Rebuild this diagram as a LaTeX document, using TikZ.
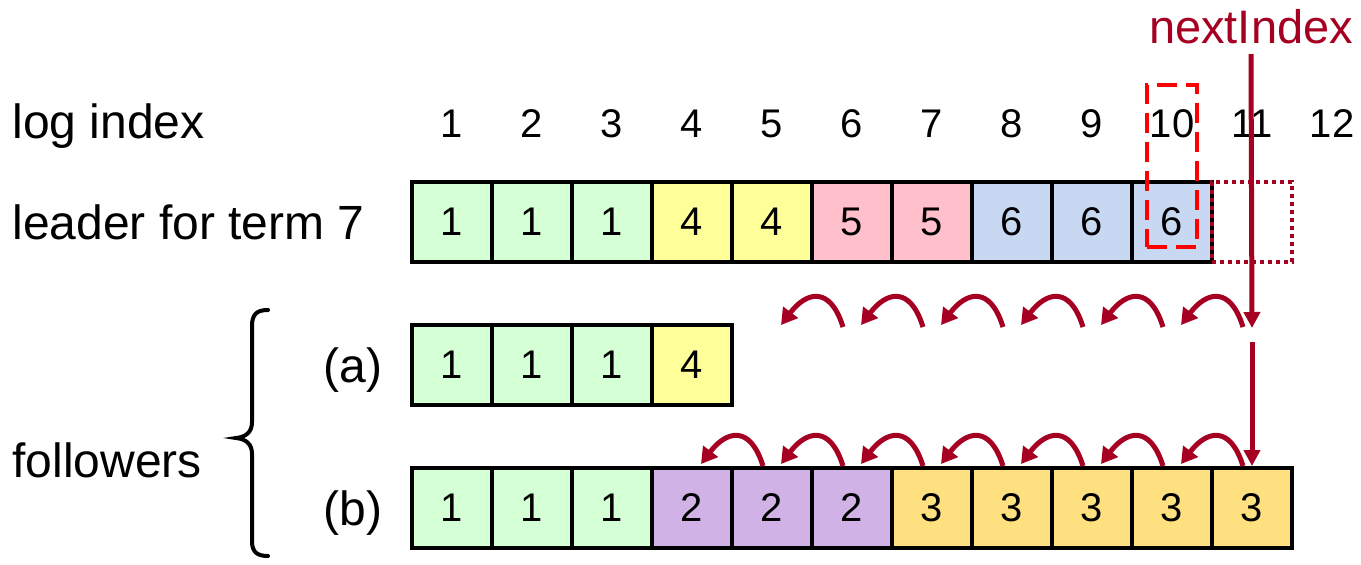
\documentclass[tikz,border=0pt]{standalone}
\usepackage{fontspec}
\setmainfont{Liberation Sans}
\usetikzlibrary{arrows.meta}
\definecolor{dred}{RGB}{165,0,33}
\definecolor{cgreen}{RGB}{213,255,213}
\definecolor{cyellow}{RGB}{255,255,153}
\definecolor{cpink}{RGB}{255,192,203}
\definecolor{cblue}{RGB}{201,216,242}
\definecolor{cpurple}{RGB}{209,178,230}
\definecolor{corange}{RGB}{255,224,128}
\begin{document}
\begin{tikzpicture}[x=0.5pt,y=-0.5pt,
 cell/.style={draw=black, line width=2pt, minimum width=40pt, minimum height=40pt, inner sep=0pt, font=\fontsize{20}{24}\selectfont},
 idx/.style={anchor=base, inner sep=0pt, font=\fontsize{20}{24}\selectfont},
 lbl/.style={anchor=base west, inner sep=0pt, font=\fontsize{24}{28}\selectfont},
 curv/.style={draw=dred, line width=2.5pt, -{Triangle[length=8pt,width=9pt]}},
 vert/.style={draw=dred, line width=2.5pt, -{Triangle[length=8pt,width=8pt]}},
]
\useasboundingbox (0,0) rectangle (1361,564);

% index labels
\foreach \i in {1,...,12}
  \node[idx] (I\i) at ({452+80*(\i-1)},137) {\i};

% leader row
\foreach \i/\v/\c in {1/1/cgreen,2/1/cgreen,3/1/cgreen,4/4/cyellow,5/4/cyellow,6/5/cpink,7/5/cpink,8/6/cblue,9/6/cblue,10/6/cblue}
  \node[cell, fill=\c] (L\i) at ({452+80*(\i-1)},222) {\v};
\node[draw=dred, line width=2pt, dash pattern=on 2pt off 2pt, minimum width=40pt, minimum height=40pt, inner sep=0pt] (L11) at (1252,222) {};

% follower (a)
\foreach \i/\v/\c in {1/1/cgreen,2/1/cgreen,3/1/cgreen,4/4/cyellow}
  \node[cell, fill=\c] (A\i) at ({452+80*(\i-1)},365) {\v};

% follower (b)
\foreach \i/\v/\c in {1/1/cgreen,2/1/cgreen,3/1/cgreen,4/2/cpurple,5/2/cpurple,6/2/cpurple,7/3/corange,8/3/corange,9/3/corange,10/3/corange,11/3/corange}
  \node[cell, fill=\c] (B\i) at ({452+80*(\i-1)},508) {\v};

% selected entry
\node[draw=red, line width=2pt, dash pattern=on 10pt off 4.5pt, minimum width=25pt, minimum height=81pt, inner sep=0pt] (sel) at (1172,166) {};

% labels
\node[lbl] (loglbl) at (12,138) {log index};
\node[lbl] (leaderlbl) at (12,239) {leader for term 7};
\node[lbl] (follbl) at (12,477) {followers};
\node[lbl, anchor=base east] (albl) at (383,382) {(a)};
\node[lbl, anchor=base east] (blbl) at (383,525) {(b)};
\node[anchor=base, inner sep=0pt, text=dred, font=\fontsize{23.5}{28}\selectfont] (ni) at (1251,43) {nextIndex};

% brace
\draw[line width=2pt, line cap=round] (268,310) .. controls (257,310) and (252,314) .. (252,326) -- (252,422) .. controls (252,432) and (246,437) .. (236,438) .. controls (246,439) and (252,444) .. (252,454) -- (252,541) .. controls (252,552) and (257,556) .. (268,556);

% vertical nextIndex arrows
\coordinate (v1s) at ([yshift=-5.5pt]ni.base);
\coordinate (v1e) at (1252,328);
\coordinate (v2s) at (1252,342);
\draw[vert] (v1s) -- (v1e);
\draw[vert] (v2s) -- (B11.north);

% upper row of back-stepping arrows
\foreach \k in {6,...,11} {
  \coordinate (ta\k) at ({452+80*(\k-1)-9},327);
  \coordinate (tb\k) at ({452+80*(\k-2)+9},325);
  \draw[curv] (ta\k) .. controls +(-13,-42) and +(25,-33) .. (tb\k);
}

% lower row of back-stepping arrows
\foreach \k [evaluate=\k as \j using int(\k-1)] in {5,...,11}
  \draw[curv] ([xshift=-4.5pt]B\k.north) .. controls +(-13,-42) and +(25,-33) .. ([xshift=4.5pt,yshift=1pt]B\j.north);
\end{tikzpicture}
\end{document}
